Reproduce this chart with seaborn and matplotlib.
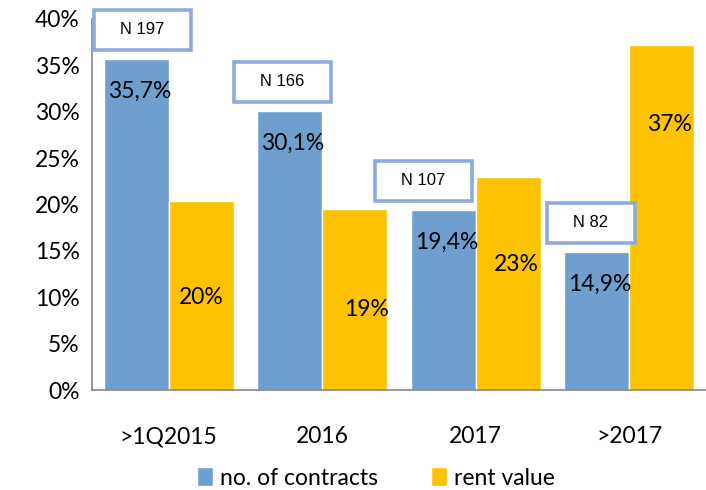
import pandas as pd
import seaborn as sns
import matplotlib.pyplot as plt
import matplotlib.ticker as mticker

# Dane
periods = [">1Q2015", "2016", "2017", ">2017"]
contracts = [35.7, 30.1, 19.4, 14.9]
rent = [20.4, 19.5, 23.0, 37.2]
contract_labels = ["35,7%", "30,1%", "19,4%", "14,9%"]
rent_labels = ["20%", "19%", "23%", "37%"]
n_labels = ["N 197", "N 166", "N 107", "N 82"]
series = ["no. of contracts", "rent value"]

# Rozmieszczenie etykiet (recznie, jak w oryginale)
rent_label_y = [9.95, 8.65, 13.5, 28.6]
rent_label_dx = [0.0, 0.08, 0.05, 0.05]
n_box_dx = [0.04, -0.05, -0.13, -0.04]

df = pd.DataFrame({
    "period": periods * 2,
    "share": contracts + rent,
    "series": [series[0]] * 4 + [series[1]] * 4,
})

sns.set_style("white")
plt.rcParams["font.family"] = ["Lato", "DejaVu Sans"]
plt.rcParams["text.color"] = "black"
plt.rcParams["xtick.color"] = "black"
plt.rcParams["ytick.color"] = "black"

fig = plt.figure(figsize=(7.06, 4.90), dpi=100)
ax = fig.add_axes([92 / 706, 100 / 490, 1 - 92 / 706, 371 / 490])

sns.barplot(data=df, x="period", y="share", hue="series",
            palette=["#6f9fcf", "#fdc300"], saturation=1, width=0.845, ax=ax)

handles, labels = ax.get_legend_handles_labels()
ax.get_legend().remove()

ax.set_xlim(-0.5, 3.48)
ax.set_ylim(0, 40)
ax.yaxis.set_major_locator(mticker.MultipleLocator(5))
ax.yaxis.set_major_formatter(mticker.FuncFormatter(lambda v, p: f"{v:.0f}%"))
ax.set_xlabel("")
ax.set_ylabel("")

# ticki kategorii na granicach
ax.set_xticks(range(len(periods)))
ax.set_xticklabels(periods)
ax.set_xticks([i - 0.5 for i in range(len(periods) + 1)], minor=True)
ax.tick_params(axis="x", which="major", length=0, pad=26, labelsize=16.5)
ax.tick_params(axis="x", which="minor", direction="out", length=6, color="#868686", width=1.2)
ax.tick_params(axis="y", direction="out", length=5, color="#868686", width=1.2, labelsize=16.5, pad=4)

for side in ["top", "right"]:
    ax.spines[side].set_visible(False)
for side in ["left", "bottom"]:
    ax.spines[side].set_color("#868686")
    ax.spines[side].set_linewidth(1.2)

bw = 0.845 / 2
for i in range(len(periods)):
    xb = i - bw / 2
    xy = i + bw / 2
    ax.text(xb + 0.02, contracts[i] - 3.5, contract_labels[i], ha="center", va="center", fontsize=16.5)
    ax.text(xy + rent_label_dx[i], rent_label_y[i], rent_labels[i], ha="center", va="center", fontsize=16.5)
    ax.text(xb + n_box_dx[i], contracts[i] + 3.15, "   " + n_labels[i] + "   ",
            ha="center", va="center", fontsize=12, family="Liberation Sans",
            bbox=dict(boxstyle="square,pad=0.75", fc="white", ec="#8eaadb", lw=2.6))

fig.legend(handles, labels, loc="center", bbox_to_anchor=(376 / 706, 12 / 490), ncol=2,
           frameon=False, fontsize=16.5, handlelength=0.7, handleheight=0.85,
           handletextpad=0.3, columnspacing=2.3, borderaxespad=0, borderpad=0)

fig.savefig("out.png", dpi=100)
